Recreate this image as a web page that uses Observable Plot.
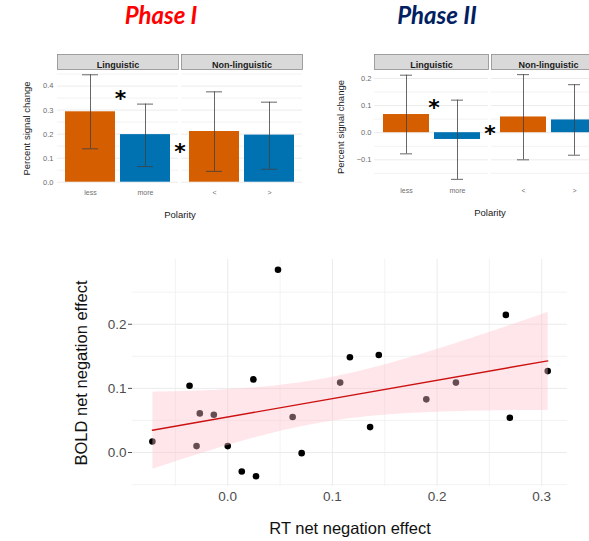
<!DOCTYPE html>
<html><head><meta charset="utf-8">
<script src="https://cdn.jsdelivr.net/npm/d3@7"></script>
<script src="https://cdn.jsdelivr.net/npm/@observablehq/plot@0.6"></script>
<style>
html,body{margin:0;padding:0;background:#fff;overflow:hidden}
#root{position:relative;width:589px;height:541px;overflow:hidden;}
.title{position:absolute;font-family:Lato,'Open Sans',sans-serif;font-weight:700;font-style:italic;font-size:24px;line-height:1.2;text-align:center;white-space:nowrap;}
.panel{position:absolute;}
</style></head><body>
<div id="root">
 <div class="title" style="left:81px;width:160px;top:1px;color:#ff0000">Phase I</div>
 <div class="title" style="left:357px;width:160px;top:1px;color:#002060">Phase II</div>
 <div class="panel" id="p1" style="left:0;top:40px"></div>
 <div class="panel" id="p2" style="left:300px;top:40px"></div>
 <div class="panel" id="p3" style="left:0;top:250px"></div>
</div>
<script>
// ---- bar chart data ----
const facets = ["Linguistic", "Non-linguistic"];
const polarity = ["less", "more", "<", ">"];
const facetOf = ["Linguistic", "Linguistic", "Non-linguistic", "Non-linguistic"];
const slotOf = [0, 1, 0, 1];
const direction = ["less", "more", "less", "more"];
const phase1Mean = [0.293, 0.198, 0.211, 0.196];
const phase1Low = [0.139, 0.065, 0.045, 0.054];
const phase1High = [0.447, 0.325, 0.376, 0.333];
const phase2Mean = [0.067, -0.025, 0.058, 0.047];
const phase2Low = [-0.078, -0.172, -0.100, -0.083];
const phase2High = [0.212, 0.120, 0.214, 0.177];
const phase1Ticks = [0, 0.1, 0.2, 0.3, 0.4];
const phase1Minor = [0.05, 0.15, 0.25, 0.35, 0.45];
const phase2Ticks = [-0.1, 0, 0.1, 0.2];
const phase2Minor = [-0.15, -0.05, 0.05, 0.15];
// significance stars: [Linguistic less vs more, Linguistic vs Non-linguistic]
const phase1StarY = [0.353, 0.136];
const phase2StarY = [0.098, 0.002];

// ---- scatter data ----
const rtEffect = [-0.072, -0.0365, -0.0267, -0.0298, -0.0133, 0.0, 0.0134, 0.0245, 0.027, 0.048, 0.062, 0.0706, 0.1074, 0.1167, 0.136, 0.1443, 0.1897, 0.218, 0.2657, 0.2695, 0.3057];
const boldEffect = [0.0172, 0.104, 0.061, 0.010, 0.0589, 0.010, -0.0296, 0.114, -0.037, 0.285, 0.0553, -0.001, 0.109, 0.1485, 0.0396, 0.152, 0.0829, 0.109, 0.2146, 0.0542, 0.127];
const scatterXTicks = [0, 0.1, 0.2, 0.3];
const scatterXMinor = [-0.05, 0.05, 0.15, 0.25];
const scatterYTicks = [0, 0.1, 0.2];
const scatterYMinor = [-0.05, 0.05, 0.15, 0.25];

const FONT = "'Liberation Sans', Arial, sans-serif";
const STYLE = `background: transparent; max-width: none; overflow: visible; font-family: ${FONT};`;
const orange = "#d55e00", blue = "#0072b2", errCol = "#404040";
const STAR_FONT = "'DejaVu Sans', sans-serif";

function barPanel(o) {
  const rows = polarity.map((p, i) => ({facet: facetOf[i], slot: slotOf[i], label: p, dir: direction[i],
    mean: o.mean[i], low: o.low[i], high: o.high[i]}));
  const plotH = o.height - o.marginTop - o.marginBottom;
  return Plot.plot({
    width: o.width, height: o.height,
    marginLeft: o.marginLeft, marginRight: o.marginRight, marginTop: o.marginTop, marginBottom: o.marginBottom,
    style: STYLE,
    fx: {domain: facets, paddingInner: 0.025, paddingOuter: 0, axis: null},
    x: {type: "band", domain: [0, 1], paddingInner: 0.1, paddingOuter: 0.15, axis: null},
    y: {domain: o.domain, axis: null},
    color: {domain: ["less", "more"], range: [orange, blue]},
    marks: [
      Plot.ruleY(o.minor, {stroke: "#ededed", strokeWidth: 0.7}),
      Plot.ruleY(o.ticks, {stroke: "#ebebeb", strokeWidth: 1}),
      Plot.frame({fill: "#d9d9d9", stroke: "#8c8c8c", strokeWidth: 0.8, insetTop: -15, insetBottom: plotH}),
      Plot.text(facets, {fx: d => d, text: d => d, frameAnchor: "top", dy: -7.5, fontSize: 9, fontWeight: "bold", fill: "#1a1a1a"}),
      Plot.barY(rows, {fx: "facet", x: "slot", y: "mean", fill: "dir"}),
      Plot.ruleX(rows, {fx: "facet", x: "slot", y1: "low", y2: "high", stroke: errCol, strokeWidth: 0.8}),
      Plot.tickY(rows, {fx: "facet", x: "slot", y: "low", stroke: errCol, strokeWidth: 0.8, insetLeft: o.capInset, insetRight: o.capInset}),
      Plot.tickY(rows, {fx: "facet", x: "slot", y: "high", stroke: errCol, strokeWidth: 0.8, insetLeft: o.capInset, insetRight: o.capInset}),
      Plot.text(rows, {fx: "facet", x: "slot", text: "label", frameAnchor: "bottom", lineAnchor: "top", dy: o.tickDy, fontSize: 7, fill: "#707070"}),
      Plot.text([o.starY[0]], {fx: () => "Linguistic", x: () => 1, y: d => d, text: () => "*", dx: o.starDx, dy: 2, fontSize: 22, fontWeight: "bold", fontFamily: STAR_FONT, fill: "#000"}),
      Plot.text([o.starY[1]], {fx: () => "Non-linguistic", y: d => d, text: () => "*", frameAnchor: "left", textAnchor: "middle", dx: -1.5, dy: 2, fontSize: 22, fontWeight: "bold", fontFamily: STAR_FONT, fill: "#000"}),
      Plot.axisY({ticks: o.ticks, tickFormat: ".1f", tickSize: 0, tickPadding: o.tickPad, fontSize: 7.5, color: "#6b6b6b", label: null}),
      Plot.axisY({ticks: [], label: "Percent signal change", labelAnchor: "center", labelArrow: "none", labelOffset: o.yLabelOffset, fontSize: 9.5, color: "#1a1a1a"}),
      Plot.axisFx({anchor: "bottom", tickSize: 0, tickFormat: () => "", label: "Polarity", labelAnchor: "center", labelArrow: "none", labelOffset: o.xLabelOffset, fontSize: 9.5, color: "#1a1a1a"})
    ]
  });
}

document.getElementById("p1").append(barPanel({
  mean: phase1Mean, low: phase1Low, high: phase1High, ticks: phase1Ticks, minor: phase1Minor, starY: phase1StarY,
  domain: [-0.022, 0.469], width: 305, height: 180, marginLeft: 57, marginRight: 3, marginTop: 29, marginBottom: 33,
  capInset: 17, tickDy: 2.5, starDx: -25, tickPad: 4, yLabelOffset: 34, xLabelOffset: 30
}));

document.getElementById("p2").append(barPanel({
  mean: phase2Mean, low: phase2Low, high: phase2High, ticks: phase2Ticks, minor: phase2Minor, starY: phase2StarY,
  domain: [-0.191, 0.233], width: 310, height: 180, marginLeft: 74, marginRight: 4, marginTop: 29, marginBottom: 36,
  capInset: 17, tickDy: 4, starDx: -23.5, tickPad: 3, yLabelOffset: 37, xLabelOffset: 31
}));

const pts = rtEffect.map((x, i) => ({x, y: boldEffect[i]}));
document.getElementById("p3").append(Plot.plot({
  width: 589, height: 291, marginLeft: 132, marginRight: 22, marginTop: 9, marginBottom: 55,
  style: STYLE,
  x: {domain: [-0.091, 0.3246], axis: null},
  y: {domain: [-0.053, 0.301], axis: null},
  marks: [
    Plot.ruleX(scatterXMinor, {stroke: "#f0f0f0", strokeWidth: 0.8}),
    Plot.ruleX(scatterXTicks, {stroke: "#ebebeb", strokeWidth: 1}),
    Plot.ruleY(scatterYMinor, {stroke: "#f0f0f0", strokeWidth: 0.8}),
    Plot.ruleY(scatterYTicks, {stroke: "#ebebeb", strokeWidth: 1}),
    Plot.dot(pts, {x: "x", y: "y", r: 3.3, fill: "#000"}),
    Plot.linearRegressionY(pts, {x: "x", y: "y", stroke: "#cc1111", strokeWidth: 1.4, fill: "pink", fillOpacity: 0.4}),
    Plot.axisX({ticks: scatterXTicks, tickFormat: ".1f", tickSize: 0, tickPadding: 5, fontSize: 13.5, color: "#4d4d4d", label: null}),
    Plot.axisX({ticks: [], label: "RT net negation effect", labelAnchor: "center", labelArrow: "none", labelOffset: 47, fontSize: 16.5, color: "#111"}),
    Plot.axisY({ticks: scatterYTicks, tickFormat: ".1f", tickSize: 4, tickPadding: 2, fontSize: 13.5, color: "#4d4d4d", label: null}),
    Plot.axisY({ticks: [], label: "BOLD net negation effect", labelAnchor: "center", labelArrow: "none", labelOffset: 57, fontSize: 16.5, color: "#111"})
  ]
}));
</script>
</body></html>
